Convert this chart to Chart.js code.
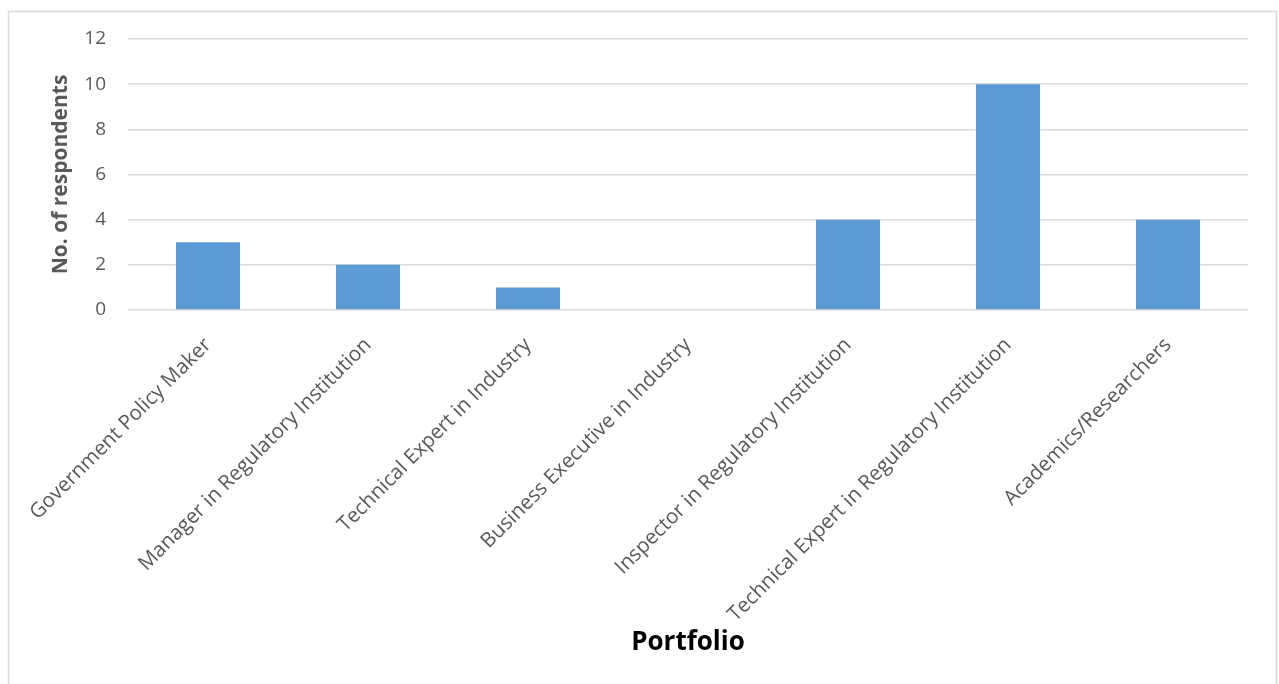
<!DOCTYPE html>
<html>
<head>
<meta charset="utf-8">
<script src="https://cdn.jsdelivr.net/npm/chart.js@4/dist/chart.umd.min.js"></script>
<style>
  html, body { margin: 0; padding: 0; background: #ffffff; overflow: hidden; }
  #wrap { width: 1279px; height: 684px; }
</style>
</head>
<body>
<div id="wrap"><canvas id="c" width="1279" height="684"></canvas></div>
<script>
const categories = [
  'Government Policy Maker',
  'Manager in Regulatory Institution',
  'Technical Expert in Industry',
  'Business Executive in Industry',
  'Inspector in Regulatory Institution',
  'Technical Expert in Regulatory Institution',
  'Academics/Researchers'
];
const respondents = [3, 2, 1, 0, 4, 10, 4];
const yTicks = [0, 2, 4, 6, 8, 10, 12];

const FONT = "'Open Sans', 'Liberation Sans', sans-serif";
const PAD = { top: 39, right: 31, left: 48, bottom: 0 };
const PLOT_LEFT = 128;
const PLOT_BOTTOM = 310;
const CANVAS_H = 684;

// Light frame around the chart area (bottom edge runs past the page)
const framePlugin = {
  id: 'frame',
  beforeDraw(chart) {
    const ctx = chart.ctx;
    ctx.save();
    ctx.strokeStyle = '#d9d9d9';
    ctx.lineWidth = 1.5;
    ctx.strokeRect(8.5, 11.5, 1268, 720);
    ctx.restore();
  }
};

new Chart(document.getElementById('c'), {
  type: 'bar',
  data: {
    labels: categories,
    datasets: [{
      data: respondents,
      backgroundColor: '#5b9bd5',
      borderWidth: 0,
      categoryPercentage: 1,
      barPercentage: 0.4
    }]
  },
  options: {
    responsive: false,
    animation: false,
    devicePixelRatio: 1,
    layout: { padding: PAD },
    plugins: {
      legend: { display: false },
      tooltip: { enabled: false }
    },
    scales: {
      x: {
        afterFit(scale) {
          // long slanted labels may hang past the frame; keep the plot fixed
          scale.paddingLeft = 0;
          scale.paddingRight = 0;
          scale.height = CANVAS_H - PLOT_BOTTOM - PAD.bottom;
        },
        grid: { display: false, drawTicks: false },
        border: { display: false },
        ticks: {
          minRotation: 45,
          maxRotation: 45,
          color: '#595959',
          padding: 23,
          font: { family: FONT, size: 20.5 }
        },
        title: {
          display: true,
          text: 'Portfolio',
          color: '#000000',
          padding: { top: 0, bottom: 26 },
          font: { family: FONT, size: 26, weight: 'bold' }
        }
      },
      y: {
        min: 0,
        max: 12,
        afterBuildTicks(scale) {
          scale.ticks = yTicks.map(v => ({ value: v }));
        },
        afterFit(scale) {
          scale.width = PLOT_LEFT - PAD.left;
          scale.paddingTop = 0;
          scale.paddingBottom = 0;
        },
        grid: { color: '#d9d9d9', lineWidth: 1.5, drawTicks: false },
        border: { display: false },
        ticks: {
          color: '#595959',
          padding: 22,
          font: { family: FONT, size: 19 }
        },
        title: {
          display: true,
          text: 'No. of respondents',
          color: '#595959',
          padding: { top: 0, bottom: 0 },
          font: { family: FONT, size: 21, weight: 'bold' }
        }
      }
    }
  },
  plugins: [framePlugin]
});
</script>
</body>
</html>
